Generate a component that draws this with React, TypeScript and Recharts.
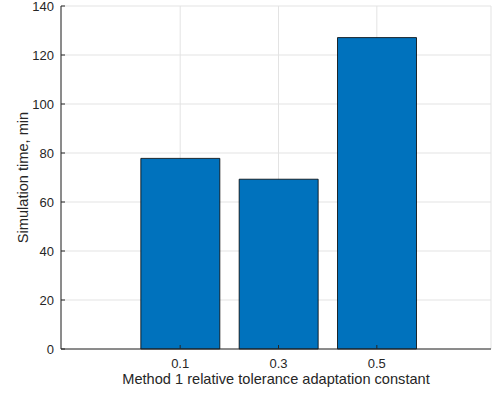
import React from "react";
import { BarChart, Bar, XAxis, YAxis, CartesianGrid } from "recharts";

const categories = ["0.1", "0.3", "0.5"];
const simulationTime = [77.8, 69.3, 127.1];
const yTicks = [0, 20, 40, 60, 80, 100, 120, 140];

const data = categories.map((c, i) => ({ cat: c, value: simulationTime[i] }));

const AX = "#262626";
const FONT = "'Liberation Sans', Arial, sans-serif";
const TICK_FS = 13;
const LABEL_FS = 14.6;

export default function App() {
  return (
    <div style={{ position: "absolute", left: 0, top: 0 }}>
      <BarChart
        width={492}
        height={397}
        data={data}
        margin={{ top: 6, right: 1, left: 0, bottom: 0 }}
        barCategoryGap="10%"
        style={{ fontFamily: FONT }}
      >
        <CartesianGrid stroke="#e3e3e3" strokeWidth={1} />
        <XAxis
          dataKey="cat"
          type="category"
          height={48}
          padding={{ left: 70, right: 65 }}
          tickSize={-4}
          tickMargin={14}
          stroke={AX}
          tick={{ fill: AX, fontSize: TICK_FS, fontFamily: FONT }}
          axisLine={{ stroke: AX, strokeWidth: 1 }}
          tickLine={{ stroke: AX }}
          label={{
            value: "Method 1 relative tolerance adaptation constant",
            position: "insideTop",
            offset: 25,
            fill: AX,
            fontSize: LABEL_FS,
            fontFamily: FONT,
          }}
        />
        <XAxis
          xAxisId="top"
          dataKey="cat"
          type="category"
          orientation="top"
          height={0}
          padding={{ left: 70, right: 65 }}
          tickSize={-4}
          tick={false}
          axisLine={{ stroke: AX, strokeWidth: 1 }}
          tickLine={{ stroke: AX }}
        />
        <YAxis
          type="number"
          domain={[0, 140]}
          ticks={yTicks}
          width={61}
          tickSize={-4}
          tickMargin={11}
          interval={0}
          tick={{ fill: AX, fontSize: TICK_FS, fontFamily: FONT }}
          axisLine={{ stroke: AX, strokeWidth: 1 }}
          tickLine={{ stroke: AX }}
          label={{
            value: "Simulation time, min",
            angle: -90,
            position: "insideLeft",
            offset: 23,
            fill: AX,
            fontSize: LABEL_FS,
            fontFamily: FONT,
            style: { textAnchor: "middle" },
          }}
        />
        <YAxis
          yAxisId="right"
          type="number"
          orientation="right"
          domain={[0, 140]}
          ticks={yTicks}
          width={0}
          tickSize={-4}
          interval={0}
          tick={false}
          axisLine={{ stroke: AX, strokeWidth: 1 }}
          tickLine={{ stroke: AX }}
        />
        <Bar
          dataKey="value"
          fill="#0072BD"
          stroke="#000000"
          strokeWidth={0.8}
          isAnimationActive={false}
        />
      </BarChart>
    </div>
  );
}
